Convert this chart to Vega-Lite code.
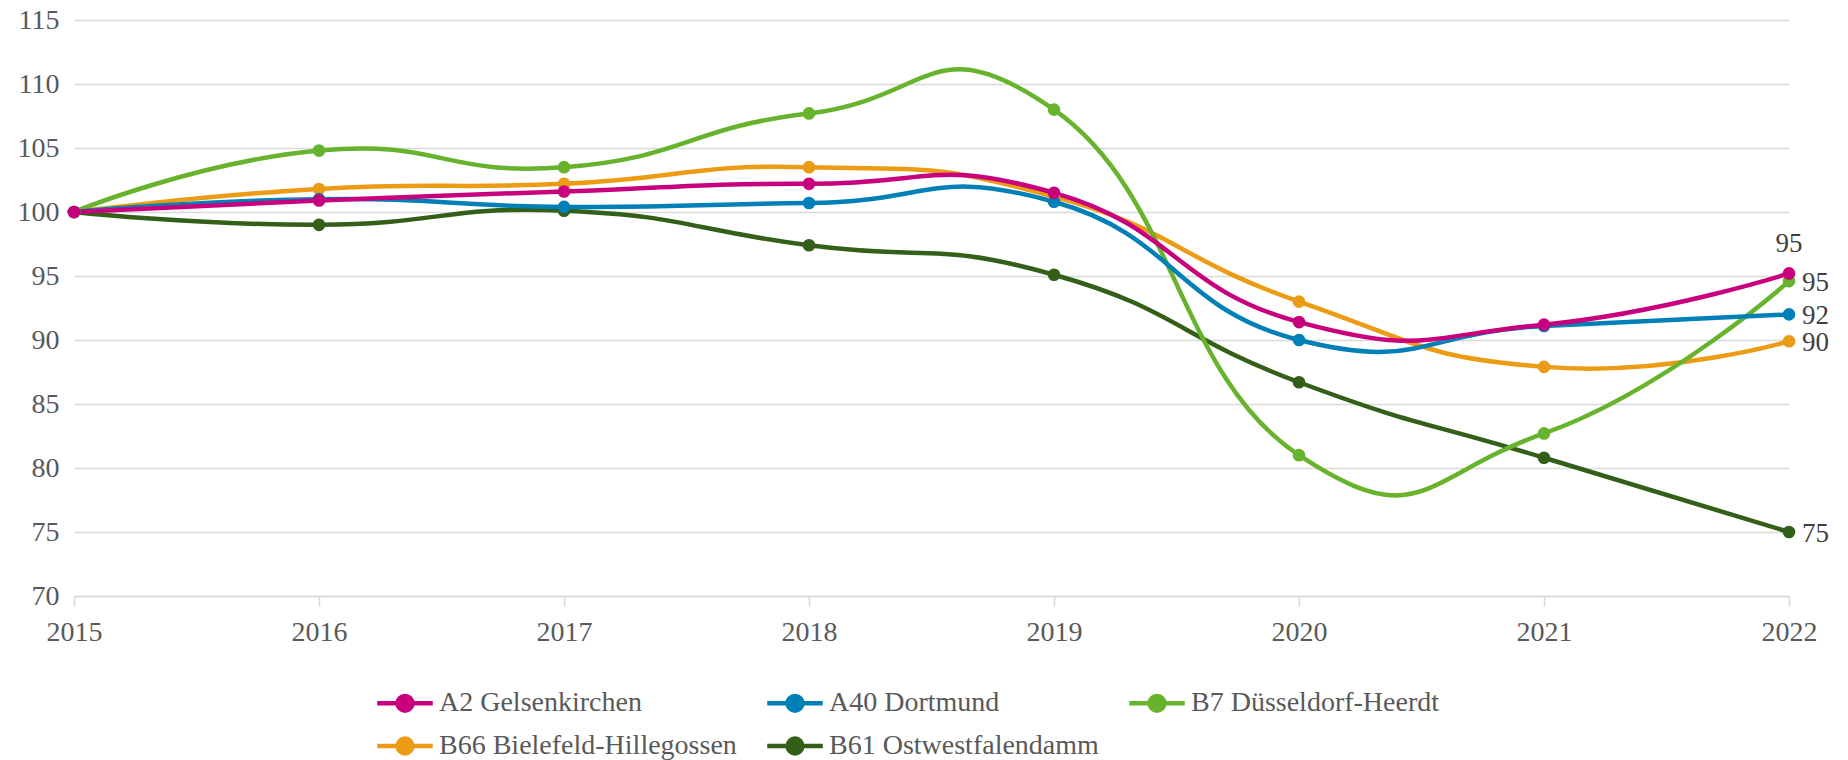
{
  "$schema": "https://vega.github.io/schema/vega-lite/v6.json",
  "width": 1715,
  "height": 576,
  "autosize": {"type": "none"},
  "padding": {"left": 74, "top": 20, "right": 59, "bottom": 164},
  "background": "white",
  "config": {
    "view": {"stroke": null},
    "font": "Liberation Serif",
    "legend": {"labelFont": "Liberation Serif", "labelFontSize": 28, "labelColor": "#595959"},
    "axis": {"labelFont": "Liberation Serif", "labelFontSize": 28, "labelColor": "#595959"}
  },
  "data": {
    "values": [
      {"series": "B61 Ostwestfalendamm", "year": 2015, "value": 100},
      {"series": "B61 Ostwestfalendamm", "year": 2016, "value": 99.0},
      {"series": "B61 Ostwestfalendamm", "year": 2017, "value": 100.1},
      {"series": "B61 Ostwestfalendamm", "year": 2018, "value": 97.4},
      {"series": "B61 Ostwestfalendamm", "year": 2019, "value": 95.1},
      {"series": "B61 Ostwestfalendamm", "year": 2020, "value": 86.7},
      {"series": "B61 Ostwestfalendamm", "year": 2021, "value": 80.8},
      {"series": "B61 Ostwestfalendamm", "year": 2022, "value": 75.0},
      {"series": "B66 Bielefeld-Hillegossen", "year": 2015, "value": 100},
      {"series": "B66 Bielefeld-Hillegossen", "year": 2016, "value": 101.8},
      {"series": "B66 Bielefeld-Hillegossen", "year": 2017, "value": 102.2},
      {"series": "B66 Bielefeld-Hillegossen", "year": 2018, "value": 103.5},
      {"series": "B66 Bielefeld-Hillegossen", "year": 2019, "value": 101.2},
      {"series": "B66 Bielefeld-Hillegossen", "year": 2020, "value": 93.0},
      {"series": "B66 Bielefeld-Hillegossen", "year": 2021, "value": 87.9},
      {"series": "B66 Bielefeld-Hillegossen", "year": 2022, "value": 89.9},
      {"series": "B7 Düsseldorf-Heerdt", "year": 2015, "value": 100},
      {"series": "B7 Düsseldorf-Heerdt", "year": 2016, "value": 104.8},
      {"series": "B7 Düsseldorf-Heerdt", "year": 2017, "value": 103.5},
      {"series": "B7 Düsseldorf-Heerdt", "year": 2018, "value": 107.7},
      {"series": "B7 Düsseldorf-Heerdt", "year": 2019, "value": 108.0},
      {"series": "B7 Düsseldorf-Heerdt", "year": 2020, "value": 81.0},
      {"series": "B7 Düsseldorf-Heerdt", "year": 2021, "value": 82.7},
      {"series": "B7 Düsseldorf-Heerdt", "year": 2022, "value": 94.6},
      {"series": "A40 Dortmund", "year": 2015, "value": 100},
      {"series": "A40 Dortmund", "year": 2016, "value": 101.0},
      {"series": "A40 Dortmund", "year": 2017, "value": 100.4},
      {"series": "A40 Dortmund", "year": 2018, "value": 100.7},
      {"series": "A40 Dortmund", "year": 2019, "value": 100.8},
      {"series": "A40 Dortmund", "year": 2020, "value": 90.0},
      {"series": "A40 Dortmund", "year": 2021, "value": 91.1},
      {"series": "A40 Dortmund", "year": 2022, "value": 92.0},
      {"series": "A2 Gelsenkirchen", "year": 2015, "value": 100},
      {"series": "A2 Gelsenkirchen", "year": 2016, "value": 100.9},
      {"series": "A2 Gelsenkirchen", "year": 2017, "value": 101.6},
      {"series": "A2 Gelsenkirchen", "year": 2018, "value": 102.2},
      {"series": "A2 Gelsenkirchen", "year": 2019, "value": 101.5},
      {"series": "A2 Gelsenkirchen", "year": 2020, "value": 91.4},
      {"series": "A2 Gelsenkirchen", "year": 2021, "value": 91.2},
      {"series": "A2 Gelsenkirchen", "year": 2022, "value": 95.2}
    ]
  },
  "encoding": {
    "x": {
      "field": "year", "type": "quantitative",
      "scale": {"domain": [2015, 2022], "nice": false, "zero": false},
      "axis": {
        "title": null, "values": [2015, 2016, 2017, 2018, 2019, 2020, 2021, 2022], "format": "d",
        "grid": false, "domain": true, "domainColor": "#d9d9d9", "domainWidth": 1.5,
        "ticks": true, "tickColor": "#d9d9d9", "tickWidth": 1.5, "tickSize": 10,
        "labelFont": "Liberation Serif", "labelFontSize": 28, "labelColor": "#595959",
        "labelPadding": 12, "labelFlush": false
      }
    },
    "y": {
      "field": "value", "type": "quantitative",
      "scale": {"domain": [70, 115], "nice": false, "zero": false},
      "axis": {
        "title": null, "values": [70, 75, 80, 85, 90, 95, 100, 105, 110, 115],
        "grid": true, "gridColor": "#d9d9d9", "gridWidth": 1.5,
        "domain": false, "ticks": false,
        "labelFont": "Liberation Serif", "labelFontSize": 28, "labelColor": "#595959",
        "labelPadding": 15
      }
    },
    "color": {
      "field": "series", "type": "nominal",
      "scale": {
        "domain": ["A2 Gelsenkirchen", "A40 Dortmund", "B7 Düsseldorf-Heerdt", "B66 Bielefeld-Hillegossen", "B61 Ostwestfalendamm"],
        "range": ["#c8007e", "#0080b6", "#68b32e", "#ec9b14", "#335f18"]
      }
    }
  },
  "layer": [
    {
      "mark": {"type": "line", "interpolate": "cardinal", "tension": -0.5, "strokeWidth": 4.5, "strokeCap": "round"},
      "encoding": {
        "color": {
          "field": "series", "type": "nominal",
          "legend": {
            "title": null, "orient": "none", "legendX": 310, "legendY": 662,
            "direction": "horizontal", "columns": 3, "columnPadding": 21, "rowPadding": 5,
            "symbolType": "M-1.5,0L1.5,0M-0.4,0A0.4,0.4,0,1,1,0.4,0A0.4,0.4,0,1,1,-0.4,0Z",
            "symbolSize": 1369, "symbolStrokeWidth": 4.5, "symbolOpacity": 1,
            "labelFont": "Liberation Serif", "labelFontSize": 28, "labelColor": "#595959",
            "labelOffset": 13, "labelLimit": 500,
            "encode": {
              "symbols": {
                "update": {
                  "fill": {"scale": "color", "field": "value"},
                  "stroke": {"scale": "color", "field": "value"},
                  "strokeWidth": {"value": 4.5}
                }
              },
              "labels": {
                "update": {
                  "font": {"value": "Liberation Serif"},
                  "fontSize": {"value": 28}
                }
              }
            }
          }
        }
      }
    },
    {
      "mark": {"type": "point", "filled": true, "size": 160, "opacity": 1},
      "encoding": {
        "color": {"field": "series", "type": "nominal", "legend": null}
      }
    },
    {
      "transform": [{"filter": "datum.year == 2022 && datum.series == 'A2 Gelsenkirchen'"}],
      "mark": {"type": "text", "font": "Liberation Serif", "fontSize": 27, "align": "center", "baseline": "middle", "dy": -29},
      "encoding": {
        "text": {"field": "value", "type": "quantitative", "format": ".0f"},
        "color": {"value": "#404040"}
      }
    },
    {
      "transform": [{"filter": "datum.year == 2022 && datum.series != 'A2 Gelsenkirchen'"}],
      "mark": {"type": "text", "font": "Liberation Serif", "fontSize": 27, "align": "left", "baseline": "middle", "dx": 13, "dy": 2},
      "encoding": {
        "text": {"field": "value", "type": "quantitative", "format": ".0f"},
        "color": {"value": "#404040"}
      }
    }
  ]
}
